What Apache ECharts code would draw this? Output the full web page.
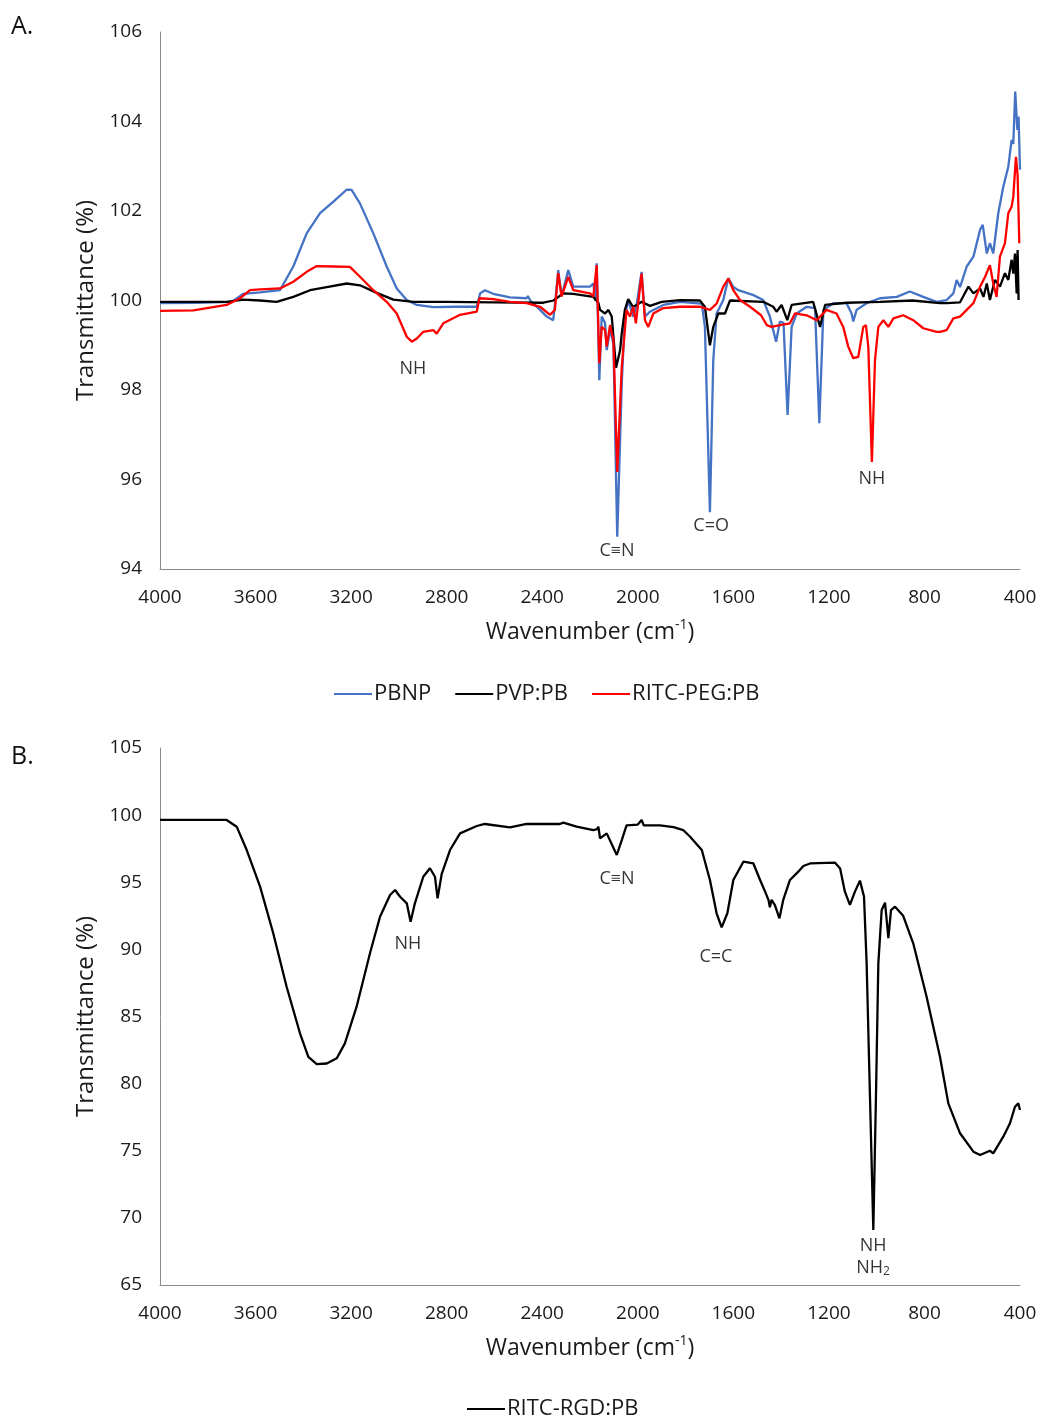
<!DOCTYPE html>
<html><head><meta charset="utf-8">
<script src="https://cdn.jsdelivr.net/npm/echarts@6/dist/echarts.min.js"></script>
<style>html,body{margin:0;padding:0;background:#fff}#c{width:1040px;height:1422px}</style>
</head><body><div id="c"></div><script>
// ---- tick values ----
const xTicks = [4000,3600,3200,2800,2400,2000,1600,1200,800,400];
const yTicksA = [94,96,98,100,102,104,106];
const yTicksB = [65,70,75,80,85,90,95,100,105];

// ---- series names ----
const namesA = ['PBNP','PVP:PB','RITC-PEG:PB'];
const namesB = ['RITC-RGD:PB'];

// ---- Panel A data: [wavenumber, transmittance] ----
const pbnp = [[4000,99.94],[3850,99.95],[3700,99.97],[3651,100.15],[3581,100.18],[3498,100.23],[3442,100.76],[3386,101.5],[3330,101.95],[3274,102.21],[3218,102.48],[3198,102.47],[3163,102.17],[3107,101.5],[3051,100.76],[3009,100.27],[2967,100.01],[2925,99.9],[2856,99.85],[2760,99.86],[2674,99.86],[2660,100.16],[2640,100.23],[2605,100.15],[2535,100.07],[2465,100.05],[2460,100.1],[2450,100.0],[2409,99.79],[2381,99.64],[2354,99.56],[2345,100.0],[2333,100.68],[2319,100.1],[2291,100.68],[2270,100.31],[2200,100.31],[2186,100.38],[2178,100.0],[2172,100.83],[2161,98.22],[2151,99.64],[2137,99.5],[2130,98.89],[2116,99.35],[2102,99.04],[2086,94.72],[2067,98.15],[2054,99.64],[2040,100.01],[2019,99.64],[2005,99.9],[1984,100.64],[1970,99.64],[1949,99.75],[1893,99.9],[1823,99.97],[1732,99.93],[1719,99.41],[1698,95.27],[1684,98.67],[1670,99.71],[1642,100.01],[1621,100.5],[1600,100.3],[1579,100.23],[1516,100.12],[1475,100.01],[1447,99.64],[1421,99.08],[1405,99.53],[1390,99.5],[1373,97.44],[1356,99.41],[1335,99.71],[1293,99.86],[1258,99.83],[1240,97.26],[1223,99.79],[1182,99.94],[1126,99.94],[1105,99.71],[1098,99.53],[1084,99.79],[1042,99.94],[986,100.05],[916,100.08],[861,100.2],[805,100.08],[749,99.97],[707,100.01],[679,100.16],[665,100.46],[651,100.3],[623,100.76],[595,100.98],[567,101.58],[556,101.69],[539,101.05],[526,101.28],[512,101.05],[491,101.95],[470,102.54],[449,102.99],[435,103.59],[428,103.5],[420,104.67],[411,103.81],[406,104.11],[400,102.92]];

const pvp = [[4000,99.97],[3721,99.97],[3651,100.02],[3581,100.0],[3512,99.97],[3442,100.08],[3372,100.23],[3302,100.3],[3218,100.38],[3163,100.34],[3093,100.17],[3023,100.02],[2939,99.97],[2800,99.97],[2600,99.96],[2395,99.95],[2353,100.0],[2312,100.16],[2270,100.15],[2186,100.08],[2165,99.95],[2158,99.79],[2137,99.71],[2123,99.79],[2109,99.64],[2091,98.5],[2074,98.89],[2067,99.27],[2054,99.79],[2040,100.03],[2020,99.86],[2005,99.9],[1984,99.97],[1949,99.88],[1900,99.97],[1823,100.01],[1740,100.0],[1719,99.86],[1698,99.0],[1684,99.41],[1663,99.71],[1635,99.71],[1614,100.0],[1475,99.97],[1433,99.86],[1419,99.75],[1398,99.9],[1374,99.56],[1356,99.9],[1266,99.97],[1237,99.41],[1216,99.9],[1126,99.95],[986,99.97],[850,100.0],[735,99.94],[707,99.94],[651,99.96],[616,100.31],[595,100.16],[567,100.27],[553,100.08],[539,100.38],[526,100.01],[505,100.46],[484,100.31],[463,100.61],[449,100.46],[435,100.91],[428,100.6],[421,101.05],[414,100.16],[410,101.13],[406,100.01]];

const ritcPeg = [[4000,99.77],[3860,99.78],[3721,99.9],[3665,100.05],[3623,100.23],[3581,100.25],[3498,100.27],[3442,100.42],[3386,100.64],[3344,100.77],[3274,100.76],[3205,100.75],[3163,100.53],[3107,100.23],[3051,99.97],[3009,99.71],[2967,99.19],[2946,99.08],[2925,99.15],[2898,99.3],[2856,99.34],[2842,99.26],[2814,99.49],[2744,99.68],[2674,99.75],[2663,100.05],[2605,100.03],[2535,99.97],[2465,99.94],[2409,99.86],[2367,99.68],[2347,99.79],[2333,100.61],[2319,100.09],[2291,100.53],[2270,100.23],[2200,100.16],[2186,100.09],[2172,100.79],[2161,98.6],[2151,99.41],[2137,99.34],[2130,98.97],[2116,99.45],[2102,99.11],[2086,96.17],[2067,98.52],[2047,99.79],[2033,99.64],[2019,99.86],[2008,99.49],[1984,100.6],[1970,99.56],[1956,99.41],[1935,99.71],[1893,99.83],[1823,99.86],[1740,99.86],[1698,99.79],[1670,99.93],[1642,100.31],[1621,100.49],[1600,100.23],[1572,100.01],[1530,99.86],[1484,99.67],[1460,99.45],[1440,99.41],[1405,99.45],[1363,99.49],[1342,99.71],[1293,99.67],[1251,99.56],[1210,99.79],[1168,99.71],[1140,99.41],[1119,98.97],[1098,98.71],[1077,98.74],[1056,99.41],[1045,99.45],[1035,98.97],[1020,96.39],[1007,98.67],[993,99.41],[972,99.56],[951,99.41],[930,99.6],[889,99.67],[847,99.56],[805,99.38],[749,99.3],[735,99.3],[707,99.34],[679,99.6],[651,99.64],[623,99.79],[595,99.94],[567,100.31],[546,100.53],[526,100.79],[512,100.38],[498,100.08],[484,100.98],[463,101.28],[449,101.95],[435,102.1],[428,102.32],[417,103.21],[410,102.8],[403,101.28]];

// ---- Panel B data ----
const ritcRgd = [[4000,99.64],[3850,99.65],[3721,99.64],[3679,99.14],[3637,97.4],[3581,94.67],[3526,91.2],[3470,87.22],[3414,83.75],[3379,82.0],[3344,81.46],[3302,81.5],[3260,81.89],[3226,83.0],[3177,85.73],[3121,89.71],[3079,92.43],[3037,94.05],[3016,94.42],[2995,93.92],[2967,93.43],[2951,92.06],[2933,93.43],[2898,95.41],[2870,96.04],[2849,95.41],[2838,93.8],[2821,95.6],[2786,97.4],[2744,98.64],[2674,99.19],[2640,99.34],[2535,99.09],[2465,99.34],[2326,99.34],[2312,99.44],[2256,99.14],[2186,98.89],[2170,98.95],[2165,99.14],[2158,98.27],[2130,98.64],[2088,97.03],[2067,98.14],[2047,99.24],[2000,99.3],[1984,99.64],[1975,99.24],[1907,99.24],[1850,99.1],[1810,98.89],[1781,98.39],[1732,97.4],[1698,95.17],[1670,92.69],[1649,91.64],[1625,92.69],[1600,95.17],[1558,96.53],[1516,96.4],[1488,95.17],[1467,94.3],[1453,93.69],[1447,93.13],[1440,93.69],[1426,93.3],[1407,92.31],[1391,93.69],[1363,95.17],[1328,95.79],[1307,96.21],[1279,96.4],[1174,96.46],[1153,96.03],[1133,94.3],[1112,93.31],[1091,94.3],[1070,95.12],[1053,93.93],[1042,88.96],[1028,79.0],[1014,69.1],[1003,79.0],[993,88.96],[979,92.93],[965,93.48],[951,90.83],[940,92.93],[923,93.18],[889,92.5],[847,90.45],[791,86.47],[735,82.0],[700,78.53],[651,76.3],[595,74.93],[567,74.68],[526,75.0],[512,74.8],[470,76.05],[442,77.05],[421,78.28],[407,78.53],[400,78.03]];

// ---- annotations: [wavenumber, transmittance, text] ----
const annotA = [[2941,98.47,'NH'],[2087,94.40,'C≡N'],[1693,94.96,'C=O'],[1020,96.01,'NH']];
const annotB = [[2962,90.40,'NH'],[2087,95.24,'C≡N'],[1673,89.43,'C=C'],[1015,67.90,'NH'],[1015,66.27,'NH{s|2}']];

const FONT = 'Open Sans';
const colors = {'PBNP':'#4472C4','PVP:PB':'#000000','RITC-PEG:PB':'#FF0000','RITC-RGD:PB':'#000000'};

function xAxisCfg(gi){
  return {
    gridIndex: gi, type:'value', inverse:true,
    min: xTicks[xTicks.length-1], max: xTicks[0], interval: xTicks[0]-xTicks[1],
    name: 'Wavenumber (cm{sup|-1})', nameLocation:'middle', nameGap: 49,
    nameTextStyle:{fontFamily:FONT, fontSize:23, color:'#1a1a1a', lineHeight:28,
      rich:{sup:{fontFamily:FONT, fontSize:14, lineHeight:12, verticalAlign:'top', color:'#1a1a1a'}}},
    axisLine:{show:true, onZero:false, lineStyle:{color:'#8c8c8c', width:1}},
    axisTick:{show:false}, splitLine:{show:false},
    axisLabel:{fontFamily:FONT, fontSize:19, color:'#1a1a1a', margin:19, formatter: v => String(v)}
  };
}
function yAxisCfg(gi, ticks){
  return {
    gridIndex: gi, type:'value',
    min: ticks[0], max: ticks[ticks.length-1], interval: ticks[1]-ticks[0],
    name:'Transmittance (%)', nameLocation:'middle', nameGap: 60, nameRotate:90,
    nameTextStyle:{fontFamily:FONT, fontSize:24, color:'#1a1a1a'},
    axisLine:{show:true, lineStyle:{color:'#8c8c8c', width:1}},
    axisTick:{show:false}, splitLine:{show:false},
    axisLabel:{fontFamily:FONT, fontSize:19, color:'#1a1a1a', margin:18, formatter: v => String(v)}
  };
}
function lineSeries(name, data, gi){
  return {name, type:'line', xAxisIndex:gi, yAxisIndex:gi, data, showSymbol:false, symbol:'none',
    lineStyle:{color:colors[name], width:2.3}, itemStyle:{color:colors[name]}, animation:false, z:3};
}
function annotSeries(data, gi){
  return {type:'scatter', xAxisIndex:gi, yAxisIndex:gi, data, symbolSize:1, silent:true,
    itemStyle:{color:'rgba(0,0,0,0)'}, animation:false, z:5,
    label:{show:true, position:'inside', formatter:p=>p.data[2], fontFamily:FONT, fontSize:18, color:'#000',
      textBorderWidth:0, textBorderColor:'transparent', lineHeight:20,
      rich:{s:{fontFamily:FONT, fontSize:12, lineHeight:8, verticalAlign:'bottom', color:'#000', textBorderWidth:0}}}};
}
function legendData(names){
  return names.map(n => ({name:n, icon:'rect', itemStyle:{color:colors[n]}}));
}

const chart = echarts.init(document.getElementById('c'), null, {renderer:'canvas'});
chart.setOption({
  backgroundColor:'#fff',
  animation:false,
  title:[
    {text:'A.', left:6, top:9, textStyle:{fontFamily:FONT, fontSize:25, fontWeight:'normal', color:'#111'}},
    {text:'B.', left:6, top:739, textStyle:{fontFamily:FONT, fontSize:25, fontWeight:'normal', color:'#111'}}
  ],
  grid:[
    {left:160, width:860, top:32, height:537},
    {left:160, width:860, top:748, height:537}
  ],
  xAxis:[xAxisCfg(0), xAxisCfg(1)],
  yAxis:[yAxisCfg(0, yTicksA), yAxisCfg(1, yTicksB)],
  legend:[
    {data:legendData(namesA), left:329, top:678, itemWidth:38, itemHeight:2, itemGap:24,
      textStyle:{fontFamily:FONT, fontSize:22, color:'#1a1a1a', padding:[0,0,0,-3]}},
    {data:legendData(namesB), left:462, top:1393, itemWidth:38, itemHeight:2,
      textStyle:{fontFamily:FONT, fontSize:22, color:'#1a1a1a', padding:[0,0,0,-3]}}
  ],
  series:[
    lineSeries('PBNP', pbnp, 0),
    lineSeries('PVP:PB', pvp, 0),
    lineSeries('RITC-PEG:PB', ritcPeg, 0),
    annotSeries(annotA, 0),
    lineSeries('RITC-RGD:PB', ritcRgd, 1),
    annotSeries(annotB, 1)
  ]
});
</script></body></html>
